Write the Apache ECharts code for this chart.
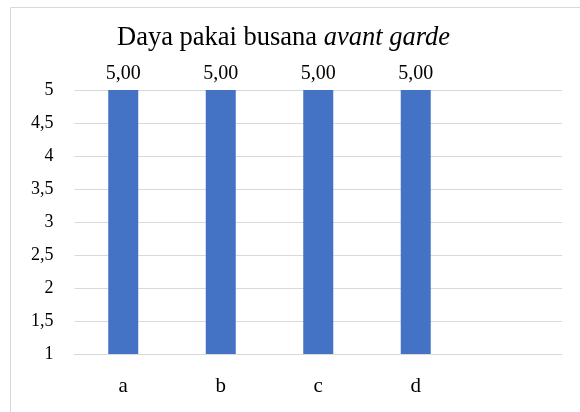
<!DOCTYPE html>
<html lang="id">
<head>
    <meta charset="UTF-8">
    <title>Daya pakai busana avant garde</title>
    <script src="https://cdn.jsdelivr.net/npm/echarts@6/dist/echarts.min.js"></script>
    <style>
        html, body { margin: 0; padding: 0; background: #fff; }
        #chart { width: 580px; height: 412px; }
    </style>
</head>
<body>
    <div id="chart"></div>
    <script>
        var categories = ['a', 'b', 'c', 'd', ''];
        var values = [5, 5, 5, 5, null];
        var yMin = 1, yMax = 5, yStep = 0.5;

        var font = '"Liberation Serif", "DejaVu Serif", serif';
        var myChart = echarts.init(document.getElementById('chart'));

        myChart.setOption({
            animation: false,
            textStyle: { fontFamily: font },
            graphic: [{
                type: 'rect',
                shape: { x: 10.5, y: 7.5, width: 620, height: 460 },
                style: { fill: 'none', stroke: '#d9d9d9', lineWidth: 1 }
            }],
            title: {
                text: '{n|Daya pakai busana }{i|avant garde}',
                left: 112,
                top: 20,
                textStyle: {
                    fontWeight: 'normal',
                    rich: {
                        n: { fontFamily: font, fontSize: 26.5, fontWeight: 'normal', color: '#000' },
                        i: { fontFamily: font, fontSize: 26.5, fontWeight: 'normal', fontStyle: 'italic', color: '#000' }
                    }
                }
            },
            grid: { left: 74.5, right: 18, top: 90, bottom: 58, containLabel: false },
            xAxis: {
                type: 'category',
                data: categories,
                axisLine: { lineStyle: { color: '#d9d9d9', width: 1 } },
                axisTick: { show: false },
                axisLabel: { color: '#000', fontSize: 21, fontFamily: font, margin: 22 }
            },
            yAxis: {
                type: 'value',
                min: yMin,
                max: yMax,
                interval: yStep,
                axisLine: { show: false },
                axisTick: { show: false },
                splitLine: { lineStyle: { color: '#d9d9d9', width: 1 } },
                axisLabel: {
                    color: '#000',
                    fontSize: 18,
                    fontFamily: font,
                    margin: 21,
                    formatter: function (v) { return String(v).replace('.', ','); }
                }
            },
            series: [{
                type: 'bar',
                data: values,
                barWidth: 30,
                itemStyle: { color: '#4472C4' },
                label: {
                    show: true,
                    position: 'top',
                    distance: 6,
                    color: '#000',
                    fontSize: 20,
                    fontFamily: font,
                    formatter: function (p) { return p.value.toFixed(2).replace('.', ','); }
                }
            }]
        });
    </script>
</body>
</html>
